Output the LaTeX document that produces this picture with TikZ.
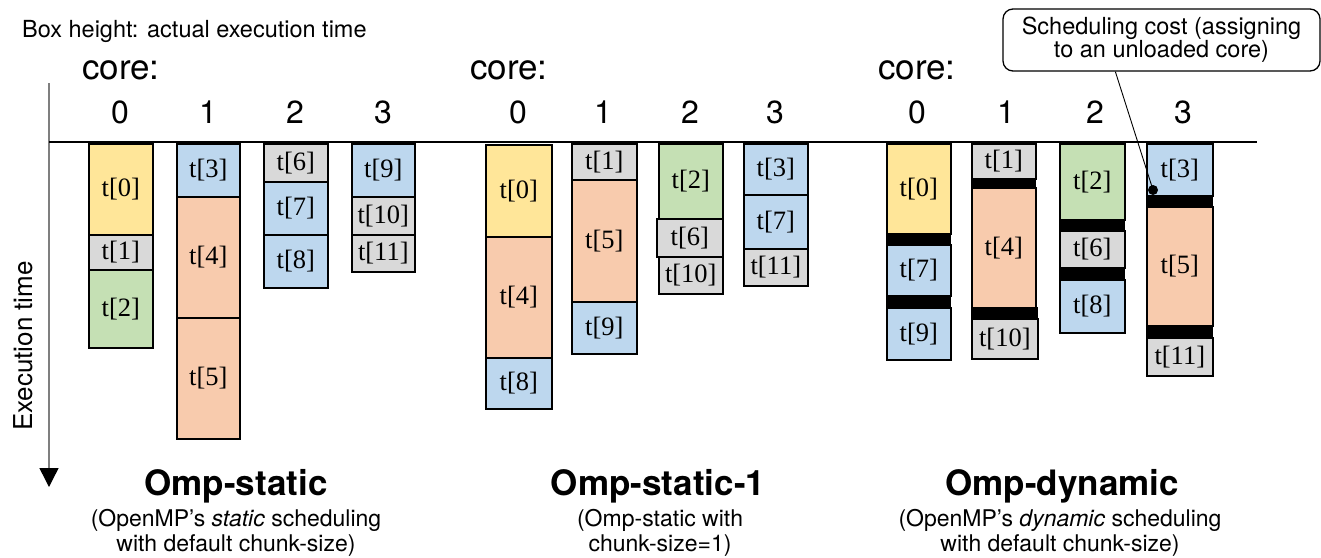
\documentclass[tikz,border=0pt]{standalone}
\usepackage{fontspec}
\setmainfont{TeX Gyre Heros}
\newfontfamily\tmsfont{Liberation Serif}
\usetikzlibrary{arrows.meta}

\definecolor{cyel}{HTML}{FFE699}
\definecolor{cgry}{HTML}{D9D9D9}
\definecolor{cgrn}{HTML}{C5E0B4}
\definecolor{cblu}{HTML}{BDD7EE}
\definecolor{corg}{HTML}{F8CBAD}
\definecolor{axisgray}{HTML}{7F7F7F}

\tikzset{
  task/.style={draw=black, line width=1.6pt, inner sep=0pt,
    font=\tmsfont\fontsize{26.5}{26.5}\selectfont},
  gapbar/.style={draw=black, fill=black, inner sep=0pt, line width=0.4pt},
  corelbl/.style={font=\fontsize{35}{35}\selectfont, inner sep=0pt, anchor=west},
  corenum/.style={font=\fontsize{32}{32}\selectfont, inner sep=0pt},
  ttl/.style={font=\bfseries\fontsize{35}{35}\selectfont, inner sep=0pt, anchor=base},
  sub/.style={font=\fontsize{23}{23}\selectfont, inner sep=0pt, anchor=base},
  note/.style={font=\fontsize{23.5}{23.5}\selectfont, inner sep=0pt},
}

% task box: name, colour, x1, y1, x2, y2, label
\newcommand\tsk[7]{%
  \pgfmathsetmacro\tskw{#5-#3}\pgfmathsetmacro\tskh{#6-#4}%
  \node[task, fill=#2, minimum width=\tskw pt, minimum height=\tskh pt,
        anchor=north west] (#1) at (#3,#4) {#7};}
% scheduling-cost bar: name, x1, y1, x2, y2
\newcommand\gapat[5]{%
  \pgfmathsetmacro\tskw{#4-#2}\pgfmathsetmacro\tskh{#5-#3}%
  \node[gapbar, minimum width=\tskw pt, minimum height=\tskh pt,
        anchor=north west] (#1) at (#2,#3) {};}

\begin{document}
\begin{tikzpicture}[x=1pt, y=-1pt]
\useasboundingbox (0,0) rectangle (1321,557);

% legend and time axis
\node[note, anchor=base west] (legend) at (22,37) {Box height: actual execution time};
\coordinate (axtop) at (49,83);
\coordinate (axend) at (49,487);
\draw[axisgray, line width=1.4pt, -{Triangle[width=19pt, length=19pt, black]}] (axtop) -- (axend);
\node[note, font=\fontsize{26}{26}\selectfont, rotate=90] (ylabel) at (23,346) {Execution time};
\coordinate (hl) at (49,142);
\coordinate (hr) at (1257,142);
\draw[line width=1.2pt] (hl) -- (hr);

% ---------- Omp-static ----------
\node[corelbl] (k1) at (82,70) {core:};
\node[corenum] (n10) at (120,112) {0};
\node[corenum] (n11) at (208,112) {1};
\node[corenum] (n12) at (295,112) {2};
\node[corenum] (n13) at (383,112) {3};
\tsk{a0}{cyel}{88}{143}{152}{234}{t[0]}
\tsk{a1}{cgry}{88}{234}{152}{269}{t[1]}
\tsk{a2}{cgrn}{88}{269}{152}{347}{t[2]}
\tsk{a3}{cblu}{176}{143}{239}{196}{t[3]}
\tsk{a4}{corg}{176}{196}{239}{317}{t[4]}
\tsk{a5}{corg}{176}{317}{239}{438}{t[5]}
\tsk{a6}{cgry}{263}{143}{327}{181}{t[6]}
\tsk{a7}{cblu}{263}{181}{327}{234}{t[7]}
\tsk{a8}{cblu}{263}{234}{327}{287}{t[8]}
\tsk{a9}{cblu}{351}{143}{414}{196}{t[9]}
\tsk{a10}{cgry}{351}{196}{414}{234}{t[10]}
\tsk{a11}{cgry}{351}{234}{414}{271}{t[11]}
\node[ttl] (t1) at (236,495) {Omp-static};
\node[sub] (s1a) at (236,526) {(OpenMP's \textit{static} scheduling};
\node[sub] (s1b) at (236,551) {with default chunk-size)};

% ---------- Omp-static-1 ----------
\node[corelbl] (k2) at (470,70) {core:};
\node[corenum] (n20) at (518,112) {0};
\node[corenum] (n21) at (603,112) {1};
\node[corenum] (n22) at (690,112) {2};
\node[corenum] (n23) at (775,112) {3};
\tsk{b0}{cyel}{485}{144}{551}{236}{t[0]}
\tsk{b4}{corg}{485}{236}{551}{357}{t[4]}
\tsk{b8}{cblu}{485}{357}{551}{408}{t[8]}
\tsk{b1}{cgry}{571}{143}{636}{179}{t[1]}
\tsk{b5}{corg}{571}{179}{636}{301}{t[5]}
\tsk{b9}{cblu}{571}{301}{636}{353}{t[9]}
\tsk{b2}{cgrn}{658}{143}{722}{218}{t[2]}
\tsk{b6}{cgry}{656}{218}{722}{256}{t[6]}
\tsk{b10}{cgry}{658}{256}{722}{293}{t[10]}
\tsk{b3}{cblu}{743}{143}{807}{194}{t[3]}
\tsk{b7}{cblu}{743}{194}{807}{248}{t[7]}
\tsk{b11}{cgry}{743}{248}{807}{285}{t[11]}
\node[ttl] (t2) at (658,495) {Omp-static-1};
\node[sub] (s2a) at (660,526) {(Omp-static with};
\node[sub] (s2b) at (660,551) {chunk-size=1)};

% ---------- Omp-dynamic ----------
\node[corelbl] (k3) at (878,70) {core:};
\node[corenum] (n30) at (917,112) {0};
\node[corenum] (n31) at (1006,112) {1};
\node[corenum] (n32) at (1095,112) {2};
\node[corenum] (n33) at (1183,112) {3};
\tsk{c0}{cyel}{886}{143}{950}{233}{t[0]}
\gapat{g0a}{886}{233}{950}{244}
\tsk{c7}{cblu}{886}{244}{950}{295}{t[7]}
\gapat{g0b}{886}{295}{950}{307}
\tsk{c9}{cblu}{886}{307}{950}{359}{t[9]}
\tsk{c1}{cgry}{971}{143}{1035}{178}{t[1]}
\gapat{g1a}{971}{178}{1035}{187}
\tsk{c4}{corg}{971}{187}{1035}{307}{t[4]}
\gapat{g1b}{971}{307}{1037}{318}
\tsk{c10}{cgry}{971}{318}{1037}{358}{t[10]}
\tsk{c2}{cgrn}{1059}{143}{1124}{219}{t[2]}
\gapat{g2a}{1059}{219}{1124}{230}
\tsk{c6}{cgry}{1059}{230}{1124}{267}{t[6]}
\gapat{g2b}{1059}{267}{1124}{279}
\tsk{c8}{cblu}{1059}{279}{1124}{332}{t[8]}
\tsk{c3}{cblu}{1146}{143}{1212}{195}{t[3]}
\gapat{g3a}{1146}{195}{1212}{206}
\tsk{c5}{corg}{1146}{206}{1212}{325}{t[5]}
\gapat{g3b}{1146}{325}{1212}{337}
\tsk{c11}{cgry}{1146}{337}{1212}{375}{t[11]}
\node[ttl] (t3) at (1062,495) {Omp-dynamic};
\node[sub] (s3a) at (1060,526) {(OpenMP's \textit{dynamic} scheduling};
\node[sub] (s3b) at (1060,551) {with default chunk-size)};

% scheduling-cost callout
\node[draw, line width=1.3pt, rounded corners=10pt, minimum width=317pt,
      minimum height=62pt, align=center, inner sep=0pt,
      font=\fontsize{23.5}{21}\selectfont] (cost) at (1161.5,40)
      {Scheduling cost (assigning\\to an unloaded core)};
\node[circle, fill=black, inner sep=0pt, minimum size=10pt] (dot) at (1153,190) {};
\draw[line width=0.9pt] ([xshift=113pt]cost.south west) -- (dot.center);
\end{tikzpicture}
\end{document}
